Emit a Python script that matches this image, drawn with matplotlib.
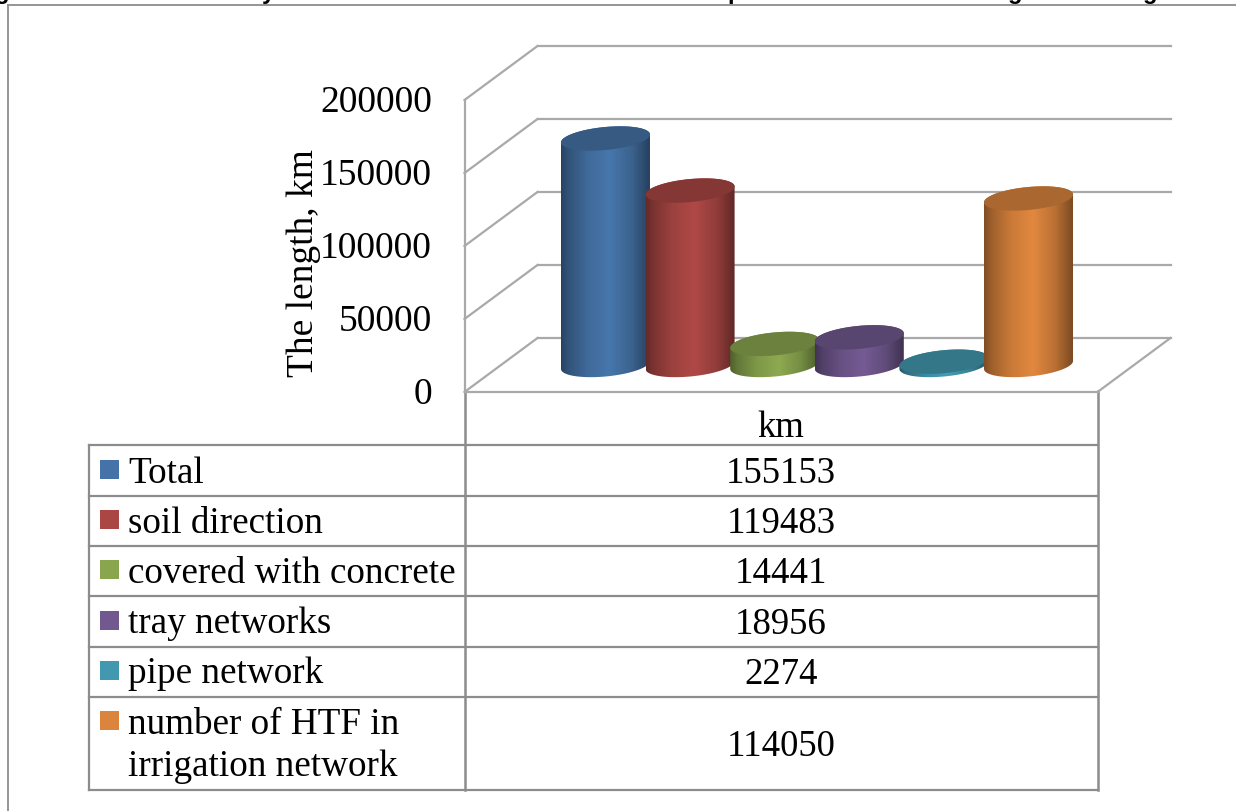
import matplotlib
matplotlib.use("Agg")
import matplotlib.pyplot as plt
import numpy as np
from matplotlib.colors import to_rgb
from matplotlib.patches import Polygon, Rectangle
from matplotlib.transforms import Affine2D, IdentityTransform

# data
series = ["Total", "soil direction", "covered with concrete", "tray networks",
          "pipe network", "number of HTF in\nirrigation network"]
values = [155153, 119483, 14441, 18956, 2274, 114050]
colors = ["#4573a7", "#aa4744", "#89a54e", "#71588f", "#4298af", "#db843d"]
y_ticks = [0, 50000, 100000, 150000, 200000]
category = "km"
y_label = "The length, km"

W, H = 1236, 812
DEPTH_X, DEPTH_Y = 36.5, 27  # half depth of the 3d box, px
GRID = "#a9a9a9"
TABLE = "#8c8c8c"

plt.rcParams["font.family"] = ["Liberation Serif", "DejaVu Serif"]

fig = plt.figure(figsize=(W / 100, H / 100), dpi=100)

# pixel canvas for the frame, table and texts
bg = fig.add_axes([0, 0, 1, 1])
bg.set_xlim(0, W)
bg.set_ylim(H, 0)
bg.axis("off")

# plot axes sits on the middle plane of the 3d box, bars stand on it
left, right, base, top = 501, 1134, 366, 74
ax = fig.add_axes([left / W, (H - base) / H, (right - left) / W, (base - top) / H])
ax.axis("off")
ax.patch.set_alpha(0)
xlim = (-1.235, 6.247)
ylim = (0, 200000)
ax.set_xlim(xlim)
ax.set_ylim(ylim)
px_x = (right - left) / (xlim[1] - xlim[0])
px_y = (base - top) / (ylim[1] - ylim[0])

back = ax.transData + Affine2D().translate(DEPTH_X, DEPTH_Y)
front = ax.transData + Affine2D().translate(-DEPTH_X, -DEPTH_Y)


def box_line(p0, tr0, p1, tr1):
    # line between two planes of the box, drawn in display coords
    a = tr0.transform(p0)
    b = tr1.transform(p1)
    ax.plot([a[0], b[0]], [a[1], b[1]], transform=IdentityTransform(), color=GRID, lw=1.6,
            solid_capstyle="projecting", clip_on=False, zorder=1)


for t in y_ticks:
    ax.plot(xlim, [t, t], transform=back, color=GRID, lw=1.6, clip_on=False, zorder=1)
    box_line((xlim[0], t), front, (xlim[0], t), back)
    p = front.transform((xlim[0], t))
    bg.text(432, H - p[1] + 2, f"{t}", ha="right", va="center", fontsize=27, color="black")

box_line((xlim[0], 0), front, (xlim[1], 0), front)
box_line((xlim[1], 0), front, (xlim[1], 0), back)
box_line((xlim[0], 0), front, (xlim[0], ylim[1]), front)

# cylinders
a = 44.5 / px_x
b = 11.5 / px_y
k = 4 / px_y
u = np.linspace(0, 1, 256)
shade = np.interp(u, [0, 0.08, 0.3, 0.55, 0.8, 1], [0.58, 0.72, 0.92, 1.03, 0.85, 0.56])

for i, (val, col) in enumerate(zip(values, colors)):
    rgb = np.array(to_rgb(col))
    t_up = np.linspace(0, np.pi, 80)
    t_dn = np.linspace(np.pi, 2 * np.pi, 80)
    body = np.r_[
        np.c_[i + a * np.cos(t_up), val + b * np.sin(t_up) + k * np.cos(t_up)],
        np.c_[i + a * np.cos(t_dn), b * np.sin(t_dn) + k * np.cos(t_dn)],
    ]
    grad = np.clip(shade[:, None] * rgb, 0, 1)[None, :, :]
    im = ax.imshow(grad, extent=(i - a, i + a, -2 * b, val + 2 * b), aspect="auto",
                   interpolation="bilinear", zorder=3 + i)
    im.set_clip_path(Polygon(body, closed=True, transform=ax.transData))
    im.set_clip_box(fig.bbox)
    t_all = np.linspace(0, 2 * np.pi, 160)
    cap = np.c_[i + a * np.cos(t_all), val + b * np.sin(t_all) + k * np.cos(t_all)]
    ax.add_patch(Polygon(cap, closed=True, facecolor=rgb * 0.78, edgecolor="none",
                         zorder=3 + i + 0.5, clip_on=False))

ax.set_xlim(xlim)
ax.set_ylim(ylim)

# outer frame, cut off by the picture edge
bg.plot([8, 8], [H, 5.5], color="#8c8c8c", lw=1.3)
bg.plot([8, W], [5.5, 5.5], color="#8c8c8c", lw=1.3)

# caption above the frame is cut away, only these descenders are left
for x, ch in [(2, "g"), (268, "y"), (735, "p"), (1015, "g"), (1150, "g")]:
    bg.text(x, -1, ch, fontsize=17, fontweight="bold", family=["Liberation Sans"],
            ha="center", va="baseline", color="black")

# data table
row_y = [445.5, 496.5, 547, 597, 647.5, 697.5, 790.5]
for y in row_y:
    bg.plot([89, 1098], [y, y], color=TABLE, lw=1.6, solid_capstyle="projecting")
bg.plot([89, 89], [row_y[0], row_y[-1]], color=TABLE, lw=1.6)
bg.plot([464.5, 464.5], [392, row_y[-1]], color=TABLE, lw=1.8)
bg.plot([1098, 1098], [392, row_y[-1]], color=TABLE, lw=1.8)

bg.text(781, 437, category, ha="center", va="baseline", fontsize=26.5)

text_base = [483, 533, 583, 633, 683, 734]
value_base = [483, 533, 583, 634, 684, 756]
swatch_top = [461, 511, 561, 612, 662, 712]
for name, val, col, tb, vb, st in zip(series, values, colors, text_base, value_base, swatch_top):
    bg.add_patch(Rectangle((100, st), 19, 19, facecolor=col, edgecolor="none"))
    for j, part in enumerate(name.split("\n")):
        bg.text(128, tb + 42 * j, part, ha="left", va="baseline", fontsize=26.7)
    bg.text(781, vb, f"{val}", ha="center", va="baseline", fontsize=26.5)

bg.text(304, 263, y_label, rotation=90, ha="center", va="center", fontsize=27)

fig.savefig("out.png", dpi=100)
